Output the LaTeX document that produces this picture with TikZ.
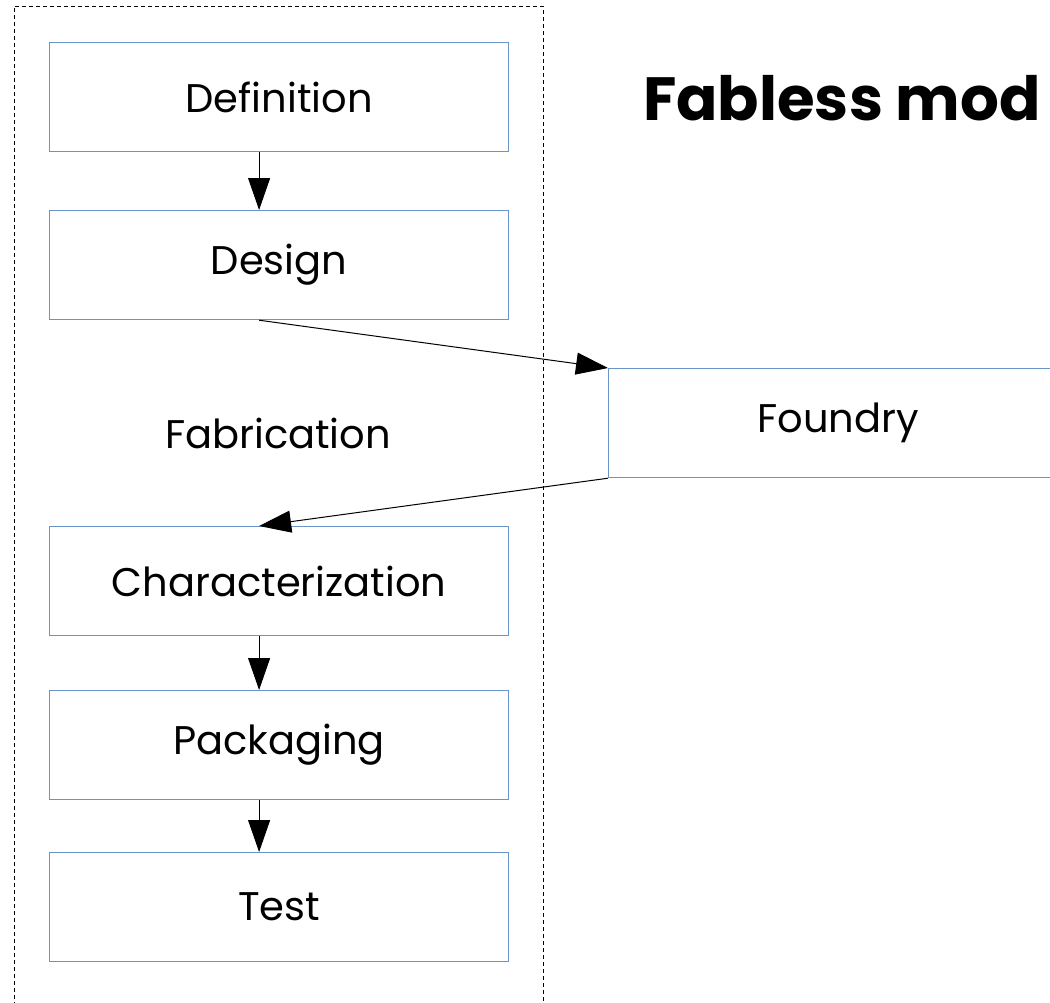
\documentclass[tikz,border=0pt]{standalone}
\usepackage{fontspec}
\setmainfont{Poppins}
\usetikzlibrary{arrows.meta, positioning}
\definecolor{boxblue}{RGB}{79,129,189}

\begin{document}
\begin{tikzpicture}[
        x=1pt, y=-1pt,
        >={Triangle[length=32pt, width=22pt]},
        font=\fontsize{40}{48}\selectfont,
        stage/.style={draw=boxblue!85, line width=1.2pt, minimum width=459pt, minimum height=109pt, inner sep=0pt, anchor=north west},
        arrow/.style={->, line width=1pt},
        frame/.style={line width=0.9pt, dash pattern=on 4pt off 3pt},
        title/.style={font=\fontsize{61}{72}\selectfont\bfseries, inner sep=0pt, anchor=base west}
    ]
        \path[use as bounding box, clip] (0,0) rectangle (1050,1002);

        % in-house flow, dashed frame runs off the bottom
        \draw[frame] (14,1020) -- (14,6) -- (543,6) -- (543,1020);

        \node[stage] (def) at (49,42) {Definition};
        \node[stage] (design) at (49,210) {Design};
        \node[inner sep=0pt] (fab) at (278,433) {Fabrication};
        \node[stage] (char) at (49,526) {Characterization};
        \node[stage] (pack) at (49,690) {Packaging};
        \node[stage] (test) at (49,852) {Test};

        % outsourced step
        \node[stage] (foundry) at (608,368) {Foundry};
        \node[title] (head) at (643,120) {Fabless mod};

        \draw[arrow] ([xshift=-20pt]def.south) -- ([xshift=-20pt]design.north);
        \draw[arrow] ([xshift=-20pt]design.south) -- (foundry.north west);
        \draw[arrow] (foundry.south west) -- ([xshift=-20pt]char.north);
        \draw[arrow] ([xshift=-20pt]char.south) -- ([xshift=-20pt]pack.north);
        \draw[arrow] ([xshift=-20pt]pack.south) -- ([xshift=-20pt]test.north);
    \end{tikzpicture}
\end{document}
